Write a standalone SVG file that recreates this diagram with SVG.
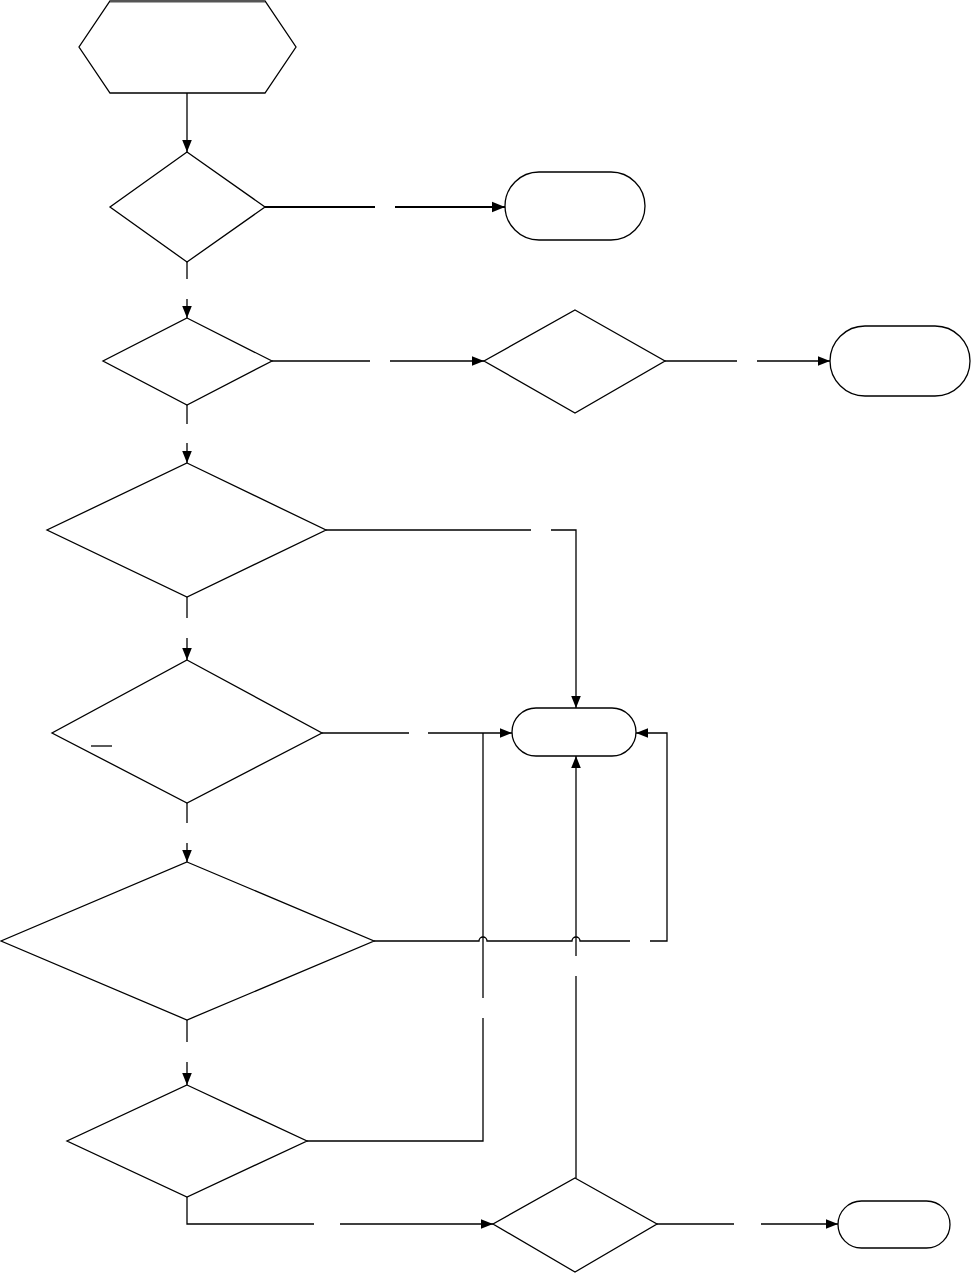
<svg xmlns="http://www.w3.org/2000/svg" width="971" height="1274" viewBox="0 0 971 1274">
<style>
.n{fill:#fff;stroke:#000;stroke-width:1.3}
.c{fill:none;stroke:#000;stroke-width:1.3}
.t{stroke-width:2}
</style>
<defs>
<marker id="a" viewBox="0 0 10 10" refX="10" refY="5" markerWidth="12" markerHeight="12" markerUnits="userSpaceOnUse" orient="auto"><path d="M0,1 L10,5 L0,9 Z" fill="#000"/></marker>
<marker id="b" viewBox="0 0 10 10" refX="10" refY="5" markerWidth="13" markerHeight="13" markerUnits="userSpaceOnUse" orient="auto"><path d="M0,1 L10,5 L0,9 Z" fill="#000"/></marker>
</defs>
<rect width="971" height="1274" fill="#fff"/>
<g id="connectors">
<path class="c" d="M187,93 V152" marker-end="url(#a)"/>
<path class="c t" d="M265,207 H375"/>
<path class="c t" d="M395,207 H505" marker-end="url(#b)"/>
<path class="c" d="M187,262 V279"/>
<path class="c" d="M187,299 V318" marker-end="url(#a)"/>
<path class="c" d="M272,361 H370"/>
<path class="c" d="M390,361 H484" marker-end="url(#a)"/>
<path class="c" d="M665,361 H737"/>
<path class="c" d="M757,361 H830" marker-end="url(#a)"/>
<path class="c" d="M187,405 V424"/>
<path class="c" d="M187,443 V463" marker-end="url(#a)"/>
<path class="c" d="M326,530 H531"/>
<path class="c" d="M551,530 H576 V708" marker-end="url(#a)"/>
<path class="c" d="M187,597 V618"/>
<path class="c" d="M187,638 V660" marker-end="url(#a)"/>
<path class="c" d="M322,733 H409"/>
<path class="c" d="M428,733 H512" marker-end="url(#a)"/>
<path class="c" d="M187,803 V823"/>
<path class="c" d="M187,843 V862" marker-end="url(#a)"/>
<path class="c" d="M374,941 H479 A4,4 0 0 1 487,941 H572 A4,4 0 0 1 580,941 H630"/>
<path class="c" d="M650,941 H667 V733 H636" marker-end="url(#a)"/>
<path class="c" d="M187,1020 V1042"/>
<path class="c" d="M187,1062 V1085" marker-end="url(#a)"/>
<path class="c" d="M307,1141 H483 V1018"/>
<path class="c" d="M483,998 V733"/>
<path class="c" d="M576,1178 V976"/>
<path class="c" d="M576,956 V756" marker-end="url(#a)"/>
<path class="c" d="M187,1197 V1224 H314"/>
<path class="c" d="M340,1224 H493" marker-end="url(#a)"/>
<path class="c" d="M657,1224 H734"/>
<path class="c" d="M761,1224 H838" marker-end="url(#a)"/>
</g>
<g id="start"><polygon class="n" points="110,1 265,1 296,47 265,93 110,93 79,47"/><path d="M110,1 H265" stroke="#555" stroke-width="3"/></g>
<g id="d1"><polygon class="n" points="187,152 265,207 187,262 110,207"/></g>
<g id="t1"><rect class="n" x="505" y="172" width="140" height="68" rx="34"/></g>
<g id="d2"><polygon class="n" points="187,318 272,361 187,405 103,361"/></g>
<g id="d3"><polygon class="n" points="575,310 665,361 575,413 484,361"/></g>
<g id="t2"><rect class="n" x="830" y="326" width="140" height="70" rx="35"/></g>
<g id="d4"><polygon class="n" points="187,463 326,530 187,597 47,530"/></g>
<g id="d5"><polygon class="n" points="187,660 322,733 187,803 52,733"/><path class="c" d="M91,746 H112"/></g>
<g id="t3"><rect class="n" x="512" y="708" width="124" height="48" rx="24"/></g>
<g id="d6"><polygon class="n" points="187,862 374,941 187,1020 1,941"/></g>
<g id="d7"><polygon class="n" points="187,1085 307,1141 187,1197 67,1141"/></g>
<g id="d8"><polygon class="n" points="575,1178 657,1224 575,1272 493,1224"/></g>
<g id="t4"><rect class="n" x="838" y="1201" width="112" height="47" rx="23.5"/></g>
</svg>
